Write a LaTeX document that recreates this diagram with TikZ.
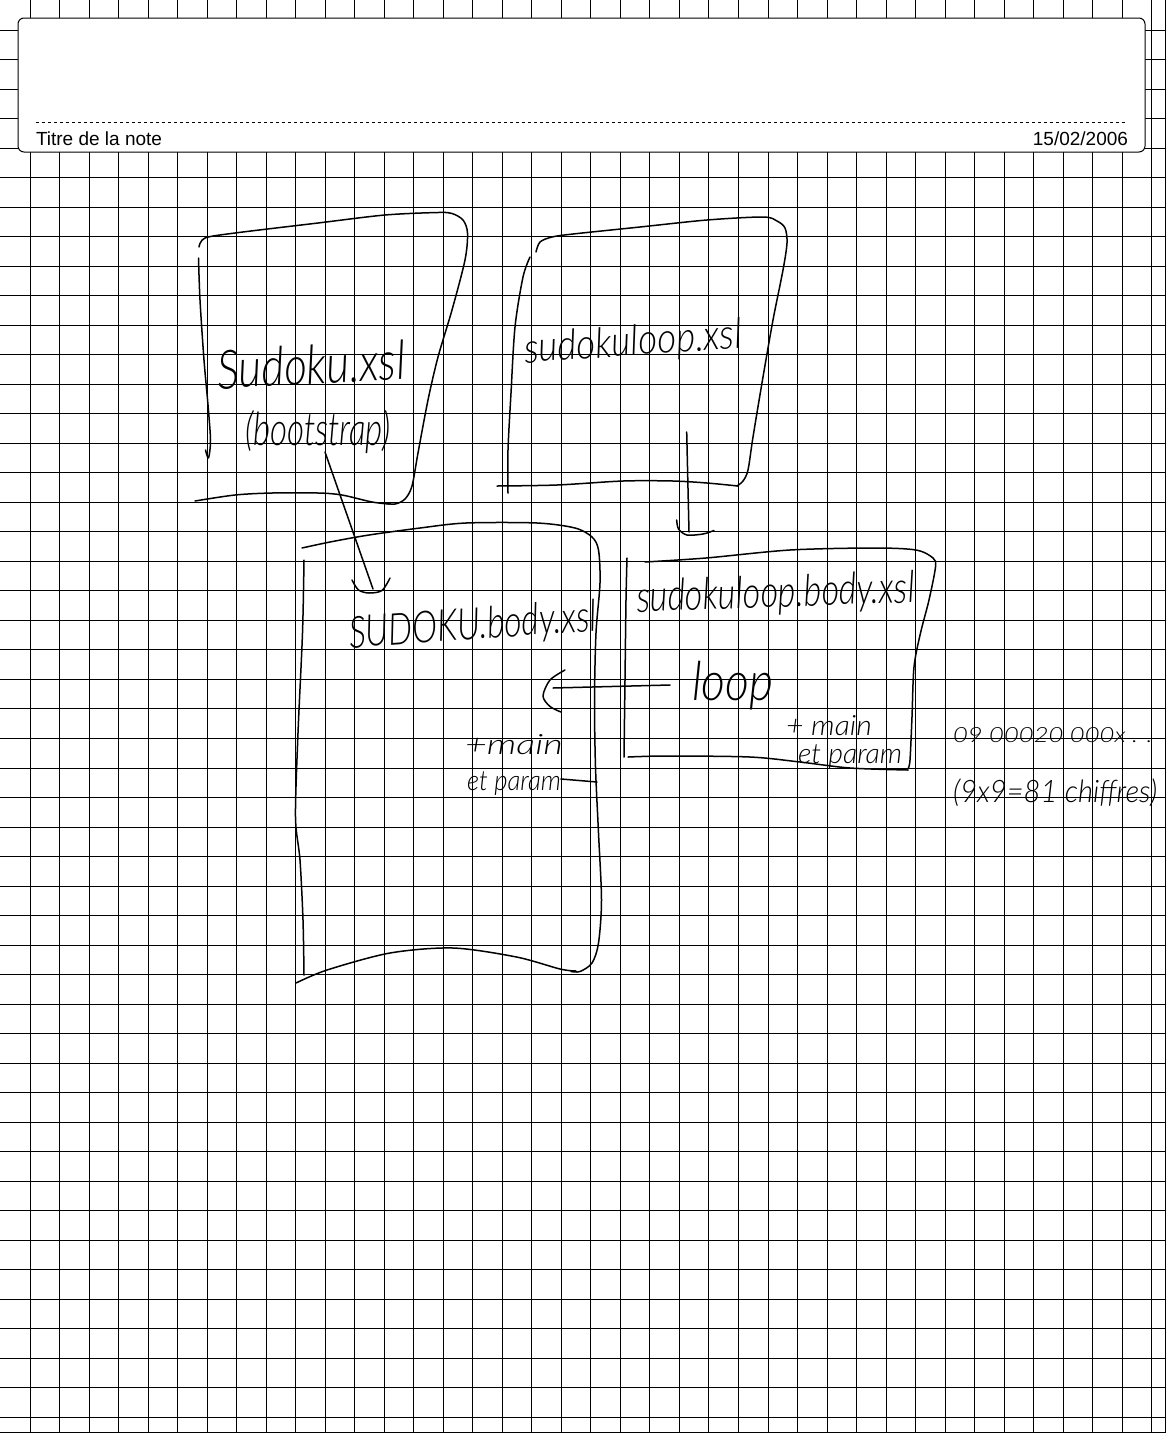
\documentclass[tikz,border=0pt]{standalone}
\usepackage{fontspec}
\usepackage{graphicx}
\setmainfont{Liberation Sans}
\newfontfamily\hand{Lato Light Italic}
% handwritten note: size, horizontal squeeze, text
\newcommand\scrawl[3]{\scalebox{#2}[1]{\fontsize{#1}{#1}\selectfont\hand #3}}

\begin{document}
\begin{tikzpicture}[x=1pt,y=-1pt,
  gridline/.style={line width=1pt, black},
  ink/.style={line width=1.5pt, line cap=round, line join=round},
  scrawltext/.style={inner sep=0pt, outer sep=0pt, anchor=base west},
  headtext/.style={inner sep=0pt, outer sep=0pt, font=\fontsize{19}{19}\selectfont},
  ]
\useasboundingbox (0,0) rectangle (1166,1433);
\fill[white] (0,0) rectangle (1166,1433);

% squared paper
\foreach \k in {0,...,38} \draw[gridline] ({30+29.52*\k},0) -- ({30+29.52*\k},1433);
\foreach \k in {0,...,47} \draw[gridline] (0,{30+29.52*\k}) -- (1166,{30+29.52*\k});
\draw[gridline] (1165.5,0) -- (1165.5,1433);
\draw[gridline] (0,1432.5) -- (1166,1432.5);

% note header
\draw[line width=1pt, fill=white, rounded corners=6pt] (18,18) rectangle (1145,152);
\draw[line width=1pt, dash pattern=on 3pt off 3pt] (36,122) -- (1127,122);
\node[headtext, anchor=base west] (title) at (36,145) {Titre de la note};
\node[headtext, anchor=base east] (date) at (1128,145) {15/02/2006};

% box: sudoku.xsl
\draw[ink] plot[smooth] coordinates {(199,247) (205,238) (235,233) (318,223) (385,215) (438,212.5) (452,213.5) (463,220) (467.5,233) (465,260) (452,310) (438,357) (428,400) (418,453) (412,486) (405,499) (395,504) (382,503)};
\draw[ink] plot[smooth] coordinates {(198.5,258) (200,300) (204,360) (208,405) (210.5,440) (208.5,458) (205.5,450)};
\draw[ink] plot[smooth] coordinates {(195,501) (235,495) (272,493) (318,493) (342,495) (372,502) (390,504)};
\node[scrawltext, rotate=3] (sudoku) at (218,389) {\scrawl{54}{0.82}{Sudoku.xsl}};
\node[scrawltext] (boot) at (245,445) {\scrawl{46}{0.72}{(bootstrap)}};

% box: sudokuloop.xsl
\draw[ink] plot[smooth] coordinates {(536,252) (540,242) (552,237) (573,234) (640,227) (707,220) (763,217) (777,221) (785,228) (787,243) (783,270) (773,320) (763,377) (753,437) (748,470) (743,481) (737,486)};
\draw[ink] plot[smooth] coordinates {(530,257) (523,277) (515,327) (511,393) (508,450) (508,493)};
\draw[ink] plot[smooth] coordinates {(497,486) (557,485) (623,481) (673,481) (707,483) (738,486)};
\node[scrawltext, rotate=4] (loopxsl) at (525,363) {\scrawl{42}{0.88}{sudokuloop.xsl}};

% box: sudoku.body.xsl
\draw[ink] plot[smooth] coordinates {(302,548) (330,542) (369,535) (420,528) (466,523) (537,523) (575,528) (592,537) (598.5,550) (600,583) (596,633) (594.5,700) (595.5,767) (598.5,833) (601.5,900) (598.5,943) (592,963) (580,971.5) (571,971.5)};
\draw[ink] plot[smooth] coordinates {(304,560) (302.5,633) (298,733) (295.5,817) (300,860) (303,920) (304,975)};
\draw[ink] plot[smooth] coordinates {(296,983) (327,970) (390,953) (453,948) (516.5,957) (560,969) (576,971)};
\node[scrawltext, rotate=4] (body) at (350,648) {\scrawl{44}{0.77}{SUDOKU.body.xsl}};
\node[scrawltext] (mainA) at (465,754) {\scrawl{28}{1.35}{+main}};
\node[scrawltext] (paramA) at (467,790) {\scrawl{28}{0.92}{et param}};
\draw[ink] (paramA.base east) ++(0,-11) coordinate (tailA) -- (597,782);

% box: sudokuloop.body.xsl
\draw[ink] plot[smooth] coordinates {(645,562) (706,558) (790,550) (874,548) (916,550) (933,558) (935.5,567) (929,600) (920.5,633) (914,667) (912,717) (910,760) (908,769)};
\draw[ink] plot[smooth] coordinates {(627,558) (626,600) (625,680) (624,757)};
\draw[ink] plot[smooth] coordinates {(628,757) (667,756) (750,757) (800,762) (850,768) (908,770)};
\node[scrawltext, rotate=2] (loopbody) at (637,612) {\scrawl{44}{0.78}{sudokuloop.body.xsl}};
\node[scrawltext] (loop) at (692,700) {\scrawl{54}{0.86}{loop}};
\node[scrawltext] (mainB) at (786,735) {\scrawl{28}{1.08}{+ main}};
\node[scrawltext] (paramB) at (798,763) {\scrawl{28}{1.02}{et param}};

% data string
\node[scrawltext] (digits) at (953,742) {\scrawl{21}{1.22}{09 00020 000x . .}};
\node[scrawltext] (count) at (953,802) {\scrawl{31}{0.94}{(9x9=81 chiffres)}};

% arrows
\coordinate (bootA) at (325,452);
\coordinate (bootB) at (373,589);
\draw[ink] (bootA) .. controls (346,512) .. (bootB);
\draw[ink] plot[smooth] coordinates {(352,580) (358.5,590) (369,593) (382,590.5) (390,578)};

\coordinate (downA) at (686.7,432);
\coordinate (downB) at (689,532);
\draw[ink] (downA) -- (downB);
\draw[ink] plot[smooth] coordinates {(676.7,520) (678.5,529) (687,535) (703,534) (714,530.5)};

\coordinate (loopA) at (670,685);
\coordinate (loopB) at (553,688);
\draw[ink] (loopA) -- (loopB);
\draw[ink] plot[smooth] coordinates {(565,670) (550,680) (543,696) (550,706.5) (561,712)};
\end{tikzpicture}
\end{document}
